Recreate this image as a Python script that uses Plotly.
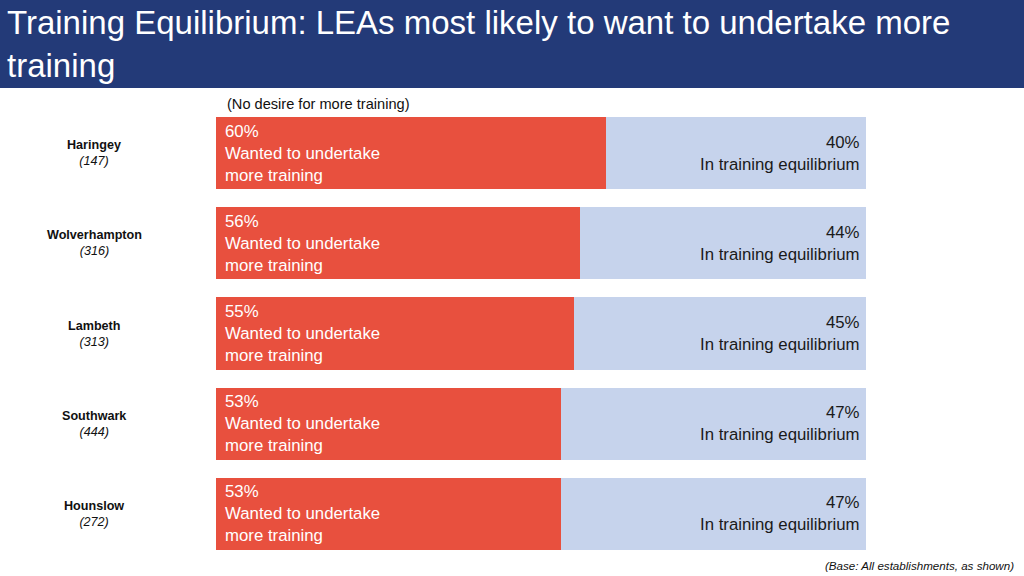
import plotly.graph_objects as go

areas = ["Haringey", "Wolverhampton", "Lambeth", "Southwark", "Hounslow"]
bases = ["(147)", "(316)", "(313)", "(444)", "(272)"]
wanted = [60, 56, 55, 53, 53]
equilibrium = [40, 44, 45, 47, 47]

title_text = "Training Equilibrium: LEAs most likely to want to undertake more<br>training"
red_label = "Wanted to undertake<br>more training"
blue_label = "In training equilibrium"

RED = "#E8503E"
BLUE = "#C6D3EC"
NAVY = "#233A78"

W, H = 1024, 576
ML, MR, MT, MB = 216, 158, 108, 17
PW = W - ML - MR
PH = H - MT - MB

fig = go.Figure()
fig.add_trace(go.Bar(y=areas, x=wanted, orientation="h", marker=dict(color=RED, line=dict(width=0)),
                     width=0.8, hoverinfo="skip", name="Wanted"))
fig.add_trace(go.Bar(y=areas, x=equilibrium, orientation="h", marker=dict(color=BLUE, line=dict(width=0)),
                     width=0.8, hoverinfo="skip", name="Equilibrium"))

ann = []
for a, b, w, e in zip(areas, bases, wanted, equilibrium):
    ann.append(dict(x=0, y=a, xref="x", yref="y", xanchor="left", yanchor="middle", xshift=7,
                    text=f"{w}%<br>{red_label}", showarrow=False, align="left",
                    font=dict(family="Liberation Sans, Arial", size=16.8, color="white")))
    ann.append(dict(x=w + e, y=a, xref="x", yref="y", xanchor="right", yanchor="middle", xshift=-4,
                    text=f"{e}%<br>{blue_label}", showarrow=False, align="right",
                    font=dict(family="Liberation Sans, Arial", size=16.8, color="#1a1a1a")))
    ann.append(dict(x=(94 - ML) / PW, y=a, xref="paper", yref="y", xanchor="center", yanchor="middle",
                    yshift=0, text=f"<b>{a}</b><br><i>{b}</i>", showarrow=False, align="center",
                    font=dict(family="Liberation Sans, Arial", size=12.6, color="#111")))

ann.append(dict(x=(225 - ML) / PW, y=(H - MB - 104) / PH, xref="paper", yref="paper",
                xanchor="left", yanchor="middle", text="(No desire for more training)", showarrow=False,
                font=dict(family="Liberation Sans, Arial", size=14.6, color="#111")))
ann.append(dict(x=(1016 - ML) / PW, y=(H - MB - 565) / PH, xref="paper", yref="paper",
                xanchor="right", yanchor="middle", text="<i>(Base: All establishments, as shown)</i>",
                showarrow=False, font=dict(family="Liberation Sans, Arial", size=11.6, color="#111")))
ann.append(dict(x=(5 - ML) / PW, y=(H - MB - 44) / PH, xref="paper", yref="paper",
                xanchor="left", yanchor="middle", text=title_text, showarrow=False, align="left",
                font=dict(family="Liberation Sans, Arial", size=33, color="white")))

shapes = [dict(type="rect", xref="paper", yref="paper", x0=-ML / PW - 0.05, x1=(W - ML) / PW + 0.05,
               y0=(H - MB - 88) / PH, y1=(H - MB) / PH + 0.05, fillcolor=NAVY, line=dict(width=0), layer="below")]

fig.update_layout(
    width=W, height=H, barmode="stack", bargap=0.2,
    margin=dict(l=ML, r=MR, t=MT, b=MB),
    paper_bgcolor="white", plot_bgcolor="white", showlegend=False,
    xaxis=dict(range=[0, 100], visible=False, fixedrange=True),
    yaxis=dict(autorange="reversed", visible=False, fixedrange=True),
    annotations=ann, shapes=shapes,
)
fig.write_html("out.html", config={"displayModeBar": False},
               post_script="document.body.style.margin='0';document.body.style.overflow='hidden';")
